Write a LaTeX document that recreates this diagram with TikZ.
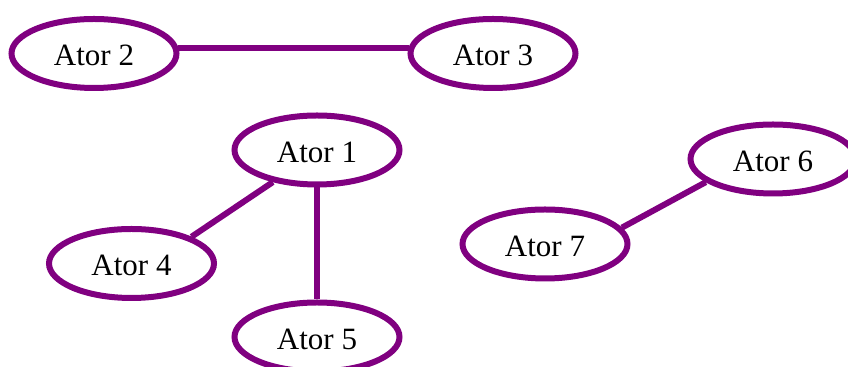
\documentclass[tikz,border=0pt]{standalone}
\usepackage{fontspec}
\setmainfont{Liberation Serif}
\usetikzlibrary{shapes.geometric}
\definecolor{atorpurple}{HTML}{800080}

\begin{document}
\begin{tikzpicture}[x=0.5pt,y=-0.5pt,
		ator/.style={ellipse, draw=atorpurple, line width=3pt, minimum width=82.5pt, minimum height=34.5pt, inner sep=0pt, text height=12.5pt, text depth=0pt, font=\fontsize{15.5}{18}\selectfont},
		link/.style={draw=atorpurple, line width=3pt}]
			\useasboundingbox (0,0) rectangle (848,367);
			\node[ator] (a2) at (94,53.5) {Ator 2};
			\node[ator] (a3) at (493,53.5) {Ator 3};
			\node[ator] (a1) at (317,150) {Ator 1};
			\node[ator] (a4) at (131.5,263.5) {Ator 4};
			\node[ator] (a5) at (317,337) {Ator 5};
			\node[ator] (a6) at (773,159) {Ator 6};
			\node[ator] (a7) at (545,244) {Ator 7};
			\draw[link] (a2.4) -- (a3.176);
			\draw[link] (a1.216) -- (a4.24);
			\draw[link] (a1) -- (a5);
			\draw[link] (a6.199) -- (a7.12);
		\end{tikzpicture}
\end{document}
